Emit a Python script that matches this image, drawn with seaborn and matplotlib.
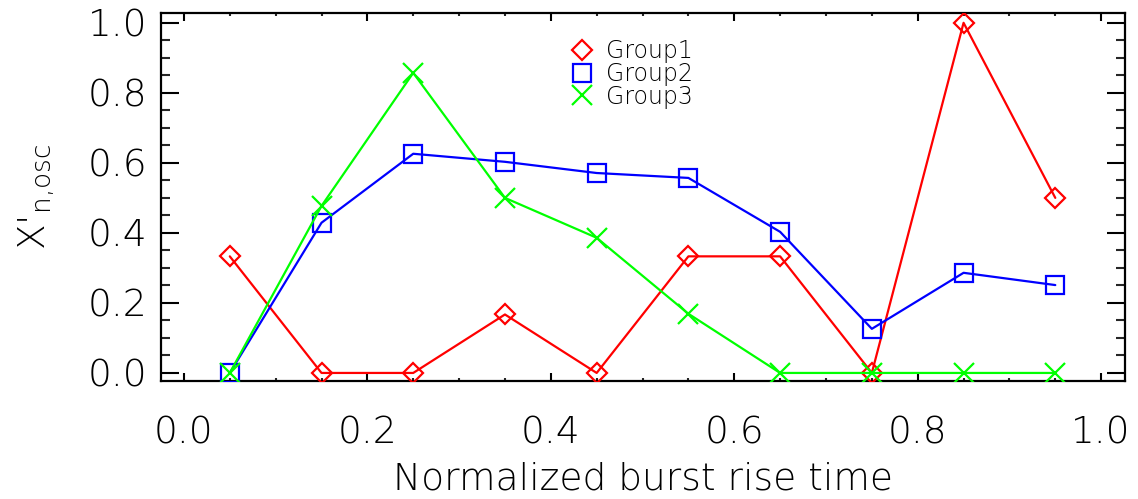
import matplotlib
matplotlib.use("Agg")
import matplotlib.pyplot as plt
from matplotlib.ticker import MultipleLocator
from matplotlib.lines import Line2D
import seaborn as sns
import pandas as pd

rise_time = [0.05, 0.15, 0.25, 0.35, 0.45, 0.55, 0.65, 0.75, 0.85, 0.95]
group1 = [0.333, 0.0, 0.0, 0.167, 0.0, 0.333, 0.333, 0.0, 1.0, 0.5]
group2 = [0.0, 0.429, 0.626, 0.603, 0.571, 0.557, 0.403, 0.126, 0.286, 0.251]
group3 = [0.0, 0.477, 0.857, 0.5, 0.386, 0.169, 0.0, 0.0, 0.0, 0.0]
labels = ["Group1", "Group2", "Group3"]
colors = ["#ff0000", "#0000ff", "#00ff00"]
markers = ["D", "s", "x"]
msizes = [10, 13, 14]

sns.set_theme(style="white")
plt.rcParams["font.family"] = ["DejaVu Sans"]
plt.rcParams["font.weight"] = "light"
plt.rcParams["mathtext.fontset"] = "dejavusans"
plt.rcParams["text.color"] = "black"
plt.rcParams["axes.labelcolor"] = "black"
plt.rcParams["axes.labelweight"] = "light"

fig = plt.figure(figsize=(11.38, 4.99), dpi=100)
ax = fig.add_axes([161/1138, 1-381/499, 964/1138, 368/499])

series = [group1, group2, group3]
handles = []
for vals, lab, c, m, ms in zip(series, labels, colors, markers, msizes):
    df = pd.DataFrame({"x": rise_time, "y": vals})
    sns.lineplot(data=df, x="x", y="y", ax=ax, color=c, linewidth=1.6,
                 marker=m, markersize=ms, markerfacecolor="none",
                 markeredgecolor=c, markeredgewidth=1.6, zorder=3)
    handles.append(Line2D([], [], linestyle="none", marker=m, markersize=ms,
                          markerfacecolor="none", markeredgecolor=c,
                          markeredgewidth=1.6, color=c, label=lab))

ax.set_xlim(-0.025, 1.026)
ax.set_ylim(-0.023, 1.028)
ax.xaxis.set_major_locator(MultipleLocator(0.2))
ax.xaxis.set_minor_locator(MultipleLocator(0.05))
ax.yaxis.set_major_locator(MultipleLocator(0.2))
ax.yaxis.set_minor_locator(MultipleLocator(0.05))
ax.xaxis.set_major_formatter(plt.FuncFormatter(lambda v, p: f"{v:.1f}"))
ax.yaxis.set_major_formatter(plt.FuncFormatter(lambda v, p: f"{v:.1f}"))

ax.tick_params(axis="x", which="major", direction="in", length=5.5, width=1.5,
               top=True, bottom=True, labelsize=27, pad=25, colors="black")
ax.tick_params(axis="x", which="minor", direction="in", length=2.5, width=1.5,
               top=True, bottom=True)
ax.tick_params(axis="y", which="major", direction="in", length=13, width=1.5,
               left=True, right=True, labelsize=27, pad=10, colors="black")
ax.tick_params(axis="y", which="minor", direction="in", length=6.5, width=1.5,
               left=True, right=True)
for s in ax.spines.values():
    s.set_visible(True)
    s.set_color("black")
    s.set_linewidth(1.6)

ax.set_xlabel("Normalized burst rise time", fontsize=27, labelpad=8, color="black")
ax.set_ylabel(r"X$'_{\mathrm{n{,}osc}}$", fontsize=27, labelpad=22, color="black")

leg = ax.legend(handles=handles, loc="upper left", bbox_to_anchor=(0.415, 0.955),
                frameon=False, fontsize=17, handlelength=1.0, handletextpad=0.5,
                labelspacing=-0.05, borderaxespad=0)
for t in leg.get_texts():
    t.set_color("black")

fig.savefig("out.png", dpi=100)
